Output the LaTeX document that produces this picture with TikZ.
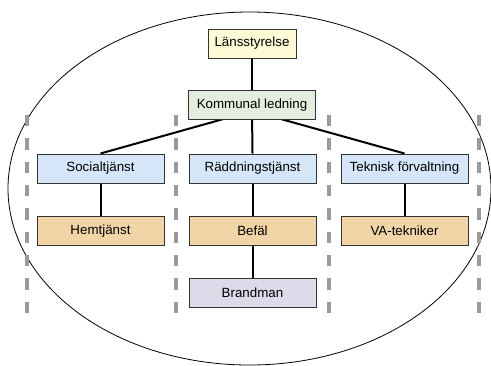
\documentclass[tikz,border=0pt]{standalone}
\usepackage{fontspec}
\setmainfont{Liberation Sans}
\usetikzlibrary{backgrounds}

\definecolor{lanfill}{HTML}{FFFAD6}
\definecolor{komfill}{HTML}{E4EEDE}
\definecolor{avdfill}{HTML}{D4E6F8}
\definecolor{perfill}{HTML}{F1D5A6}
\definecolor{brafill}{HTML}{DEDAEA}
\definecolor{boxline}{HTML}{333333}
\definecolor{gransgra}{HTML}{9A9A9A}

\tikzset{
  box/.style={draw=boxline, line width=0.75pt, minimum width=95.25pt,
    minimum height=21.75pt, inner sep=0pt, font=\fontsize{10}{12}\selectfont},
  link/.style={line width=1.5pt, black},
  grans/.style={gransgra, line width=3pt, dash pattern=on 8.6pt off 8.9pt}
}

\begin{document}
\begin{tikzpicture}[x=0.75pt, y=-0.75pt]
        \useasboundingbox (0,0) rectangle (491,365);
        % the outer oval
        \draw [line width=0.6pt] (249.5,188.5) ellipse [x radius=241.5, y radius=176.5];
        % column borders
        \foreach \x in {27,176,329,479}
          \draw [grans] (\x,115) -- (\x,315);
        % nodes
        \node [box, fill=lanfill, minimum width=66pt] (lan) at (252,43.5) {Länsstyrelse};
        \node [box, fill=komfill] (kommun) at (252,105) {Kommunal ledning};
        \node [box, fill=avdfill] (social) at (100.5,168.5) {Socialtjänst};
        \node [box, fill=avdfill] (radd) at (252.5,168.5) {Räddningstjänst};
        \node [box, fill=avdfill] (teknik) at (404.5,168.5) {Teknisk förvaltning};
        \node [box, fill=perfill] (hemtj) at (100.5,231) {Hemtjänst};
        \node [box, fill=perfill] (befal) at (252.5,231) {Befäl};
        \node [box, fill=perfill] (vatek) at (404.5,231) {VA-tekniker};
        \node [box, fill=brafill] (brand) at (252.5,292.5) {Brandman};
        \coordinate (hub) at (252,111);
        % connectors
        \begin{scope}[on background layer]
        \draw [link] (lan) -- (kommun);
        \draw [link] (hub) -- (social.north);
        \draw [link] (hub) -- (radd.north);
        \draw [link] (hub) -- (teknik.north);
        \draw [link] (social) -- (hemtj);
        \draw [link] (radd) -- (befal);
        \draw [link] (teknik) -- (vatek);
        \draw [link] (befal) -- (brand);
        \end{scope}
        \end{tikzpicture}
\end{document}
